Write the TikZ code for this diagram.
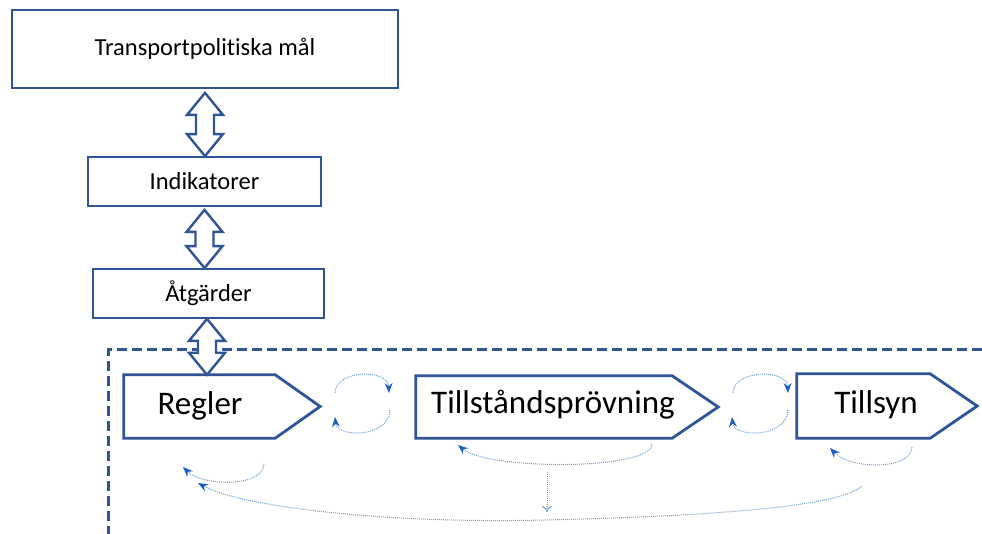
\documentclass[tikz,border=0pt]{standalone}
\usepackage{fontspec}
\setmainfont{Carlito}[Ligatures=NoCommon]
\usetikzlibrary{calc,arrows.meta}

\definecolor{boxblue}{HTML}{2F5597}
\definecolor{loopblue}{HTML}{6FA0DC}
\definecolor{tipblue}{HTML}{1F5FC0}

\tikzset{
  levelbox/.style={draw=boxblue, line width=1.8pt, fill=white, inner sep=0pt,
    font=\fontsize{24.5}{28}\selectfont},
  stagebox/.style={inner sep=0pt},
  stageline/.style={draw=boxblue, line width=2.8pt, line join=miter},
  stagetext/.style={font=\fontsize{33}{38}\selectfont, inner sep=0pt},
  hollowlink/.style={draw=boxblue, line width=2.4pt, fill=white, line join=miter},
  frameline/.style={draw=boxblue, line width=3pt, dash pattern=on 10pt off 5pt},
  loopline/.style={draw=loopblue, line width=1pt, densely dotted,
    -{Stealth[length=10pt,width=8pt,fill=tipblue,color=tipblue]}},
  dropline/.style={draw=loopblue, line width=1pt, densely dotted,
    -{To[length=6pt,width=10pt]}}
}

% hollow double-headed arrow between the bottom of #1 and the top of #2
\newcommand\hollowpair[4]{%
  \path[hollowlink] let \p1=($(#1.south)+(#3,0)$), \p2=(#2.north),
    \n1={\y1-#4} in
    (\x1,\n1) -- ++(18pt,-22pt) -- ++(-9pt,0pt) -- (\x1+9pt,\y2+22pt)
    -- ++(9pt,0pt) -- (\x1,\y2) -- ++(-18pt,22pt) -- ++(9pt,0pt)
    -- (\x1-9pt,\n1-22pt) -- ++(-9pt,0pt) -- cycle;}

% pentagon outline on a node, pointer of depth #2
\newcommand\stageoutline[2]{%
  \draw[stageline] (#1.north west) -- ($(#1.north east)+(-#2,0)$)
    -- (#1.east) -- ($(#1.south east)+(-#2,0)$) -- (#1.south west) -- cycle;}

\begin{document}
\begin{tikzpicture}[x=1pt,y=-1pt]
\useasboundingbox[fill=white] (0,0) rectangle (982,534);

% policy levels
\node[levelbox, minimum width=386pt, minimum height=78pt] (goals) at (205,49) {Transportpolitiska mål};
\node[levelbox, minimum width=233pt, minimum height=49pt] (indic) at (204.5,181.5) {Indikatorer};
\node[levelbox, minimum width=231pt, minimum height=49pt] (meas) at (208.5,293.5) {Åtgärder};

% dashed frame around the stages
\coordinate (frameTL) at (108,350);
\coordinate (frameTR) at (982,350);
\coordinate (frameBL) at (108,534);
\draw[frameline] (frameTR) -- (frameTL) -- (frameBL);

% stages
\node[stagebox, minimum width=196pt, minimum height=63pt] (regler) at (222,406.5) {};
\node[stagebox, minimum width=302pt, minimum height=62pt] (tillst) at (567,407) {};
\node[stagebox, minimum width=180pt, minimum height=64pt] (tillsyn) at (887,406) {};
\stageoutline{regler}{45pt}
\stageoutline{tillst}{46pt}
\stageoutline{tillsyn}{47pt}
\node[stagetext] (reglerT) at (200,406) {Regler};
\node[stagetext] (tillstT) at (553,405) {Tillståndsprövning};
\node[stagetext] (tillsynT) at (876,405) {Tillsyn};

% links between levels
\hollowpair{goals}{indic}{0pt}{4pt}
\hollowpair{indic}{meas}{0pt}{3pt}
\hollowpair{meas}{regler}{-1.5pt}{0pt}

% feedback loops between neighbouring stages
\coordinate (c1a) at (335,393); \coordinate (c1b) at (389,393);
\coordinate (c1c) at (390,410); \coordinate (c1d) at (335,417);
\draw[loopline] (c1a) .. controls (336,369) and (388,369) .. (c1b);
\draw[loopline] (c1c) .. controls (389,438) and (337,438) .. (c1d);

\coordinate (c2a) at (733,393); \coordinate (c2b) at (788,393);
\coordinate (c2c) at (788,410); \coordinate (c2d) at (732,417);
\draw[loopline] (c2a) .. controls (734,369) and (787,369) .. (c2b);
\draw[loopline] (c2c) .. controls (787,438) and (734,438) .. (c2d);

% loops below the stages
\coordinate (r1) at (264,464); \coordinate (r2) at (183,467);
\draw[loopline] (r1) .. controls (263,488) and (202,486) .. (r2);

\coordinate (t1) at (652,444); \coordinate (t2) at (458,445);
\draw[loopline] (t1) .. controls (651,471) and (488,470) .. (t2);

\coordinate (s1) at (912,447); \coordinate (s2) at (830,448);
\draw[loopline] (s1) .. controls (911,471) and (850,469) .. (s2);

\coordinate (l1) at (862,486); \coordinate (lm) at (545,520); \coordinate (l2) at (198,483);
\draw[loopline] (l1) .. controls (840,506) and (720,516) .. (lm)
  .. controls (380,524) and (240,506) .. (l2);

\coordinate (d1) at (547,472); \coordinate (d2) at (547,512);
\draw[dropline] (d1) -- (d2);
\end{tikzpicture}
\end{document}
